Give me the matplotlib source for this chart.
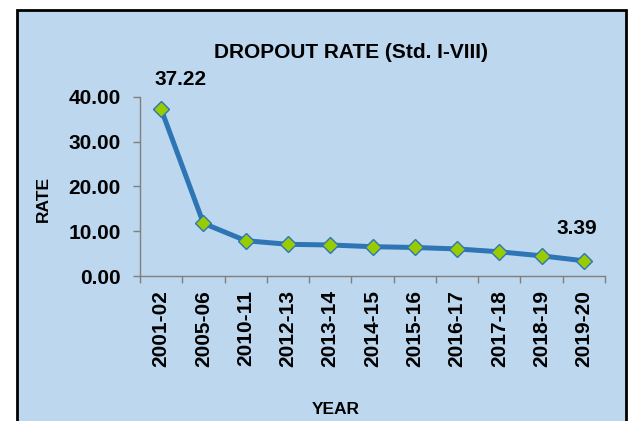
import matplotlib
matplotlib.use("Agg")
import matplotlib.pyplot as plt
from matplotlib.patches import Rectangle

years = ["2001-02", "2005-06", "2010-11", "2012-13", "2013-14", "2014-15",
         "2015-16", "2016-17", "2017-18", "2018-19", "2019-20"]
rate = [37.22, 11.76, 7.88, 7.07, 6.92, 6.54, 6.36, 6.04, 5.40, 4.50, 3.39]
yticks = [0, 10, 20, 30, 40]

plt.rcParams["font.family"] = ["Liberation Sans", "DejaVu Sans"]
plt.rcParams["font.weight"] = "bold"

W, H = 633, 421
fig = plt.figure(figsize=(W / 100, H / 100), dpi=100)
fig.patch.set_facecolor("white")

# light blue panel with black frame (bottom edge runs off the image)
box = Rectangle((17 / W, -0.05), (626 - 17) / W, 1 - 10 / H + 0.05,
                transform=fig.transFigure, facecolor="#BDD7EE",
                edgecolor="black", linewidth=2, zorder=-5)
fig.patches.append(box)

ax = fig.add_axes([140 / W, 1 - 276 / H, 465 / W, 179.3 / H])
ax.set_facecolor("none")
ax.set_zorder(2)

x = list(range(len(years)))
ax.plot(x, rate, color="#2E75B6", linewidth=3.6, marker="D", markersize=8.5,
        markerfacecolor="#99CC00", markeredgecolor="#2E75B6",
        markeredgewidth=1, zorder=3, clip_on=False)

ax.set_xlim(-0.5, len(years) - 0.5)
ax.set_ylim(0, 40)
ax.set_yticks(yticks)
ax.set_yticklabels(["%.2f" % v for v in yticks], fontsize=15, fontweight="bold")
ax.set_xticks(x)
ax.set_xticklabels(years, rotation=90, fontsize=15, fontweight="bold")
ax.tick_params(axis="x", length=0, pad=10)
ax.set_xticks([i - 0.5 for i in range(len(years) + 1)], minor=True)
ax.tick_params(axis="x", which="minor", length=5, color="#808080", width=1)
ax.tick_params(axis="y", length=5, color="#808080", width=1, pad=9)

for s in ["top", "right"]:
    ax.spines[s].set_visible(False)
for s in ["left", "bottom"]:
    ax.spines[s].set_color("#808080")
    ax.spines[s].set_linewidth(1)

# data labels on first and last points
ax.annotate("%.2f" % rate[0], (x[0], rate[0]), xytext=(14, 21),
            textcoords="offset points", ha="center", va="center",
            fontsize=15, fontweight="bold")
ax.annotate("%.2f" % rate[-1], (x[-1], rate[-1]), xytext=(-5, 23),
            textcoords="offset points", ha="center", va="center",
            fontsize=15, fontweight="bold")

fig.text(351 / W, 1 - 52 / H, "DROPOUT RATE (Std. I-VIII)", ha="center",
         va="center", fontsize=15, fontweight="bold")
fig.text(43 / W, 1 - 199 / H, "RATE", rotation=90, ha="center", va="center",
         fontsize=12.5, fontweight="bold")
fig.text(336 / W, 1 - 410 / H, "YEAR", ha="center", va="center",
         fontsize=12.5, fontweight="bold")

fig.savefig("out.png", dpi=100)
